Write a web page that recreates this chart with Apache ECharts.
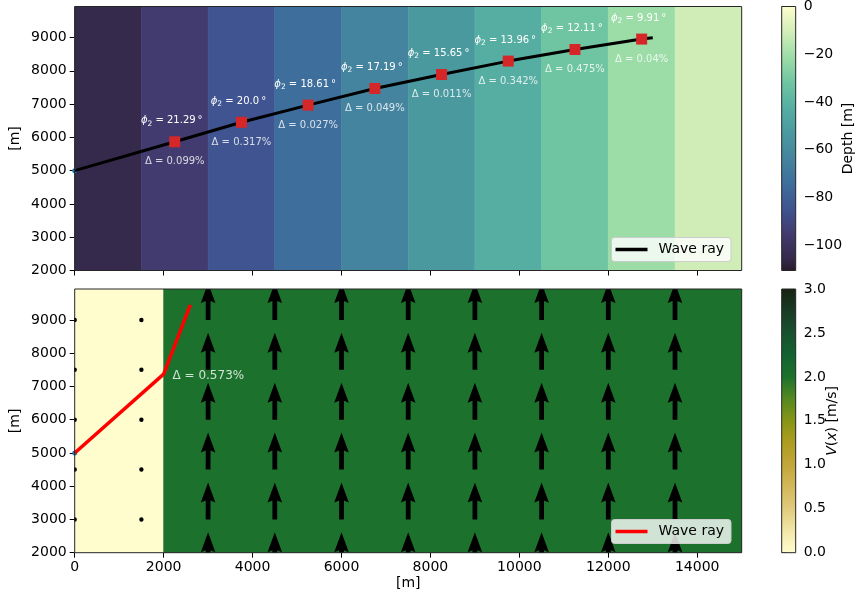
<!DOCTYPE html>
<html>
<head>
<meta charset="utf-8">
<title>Wave ray</title>
<script src="https://cdn.jsdelivr.net/npm/echarts@6/dist/echarts.min.js"></script>
<style>
  html, body { margin: 0; padding: 0; background: #fff; }
  #chart { width: 855px; height: 599px; }
</style>
</head>
<body>
<div id="chart"></div>
<script>
// ---------------- data ----------------
// top panel: depth bands (left edge, depth)
const bandX = [0, 1500, 3000, 4500, 6000, 7500, 9000, 10500, 12000, 13500];
const bandDepth = [-105.5, -95, -84.5, -74, -63.5, -53, -42.5, -32, -21.5, -11];
const bandWidth = 1500;

// top panel: wave ray
const rayX = [0, 2250, 3750, 5250, 6750, 8250, 9750, 11250, 12750, 13000];
const rayY = [5000, 5866, 6452, 6968, 7467, 7888, 8290, 8639, 8951, 8990];

// top panel: marked points
const pointX = [2250, 3750, 5250, 6750, 8250, 9750, 11250, 12750];
const pointY = [5866, 6452, 6968, 7467, 7888, 8290, 8639, 8951];
const phi = ["21.29", "20.0", "18.61", "17.19", "15.65", "13.96", "12.11", "9.91"];
const delta = ["0.099", "0.317", "0.027", "0.049", "0.011", "0.342", "0.475", "0.04"];

// bottom panel: current regions
const speedX0 = [0, 2000];
const speedX1 = [2000, 15000];
const speedV = [0, 2];

// bottom panel: quiver grid
const quiverX = [0, 1500, 3000, 4500, 6000, 7500, 9000, 10500, 12000, 13500];
const quiverY = [1500, 3000, 4500, 6000, 7500, 9000];
const quiverV = [0, 0, 2, 2, 2, 2, 2, 2, 2, 2];

// bottom panel: wave ray
const ray2X = [0, 2000, 2600];
const ray2Y = [5000, 7370, 9450];
const ray2Delta = "0.573";
const ray2Note = [2200, 7320];

// ticks
const xTicks = [0, 2000, 4000, 6000, 8000, 10000, 12000, 14000];
const yTicks = [2000, 3000, 4000, 5000, 6000, 7000, 8000, 9000];
const depthTicks = [-100, -80, -60, -40, -20, 0];
const speedTicks = [0, 0.5, 1, 1.5, 2, 2.5, 3];

// ---------------- colormaps ----------------
const deepStops = [
  [-110.5, "#281a2c"], [-105.5, "#352a4b"], [-95, "#423b6f"], [-84.5, "#3f5490"],
  [-74, "#3e6e9c"], [-63.5, "#45849e"], [-53, "#4a999f"], [-42.5, "#56aea3"],
  [-32, "#6fc5a1"], [-21.5, "#9bdca7"], [-11, "#d0edb8"], [0, "#fdfecc"],
];
const speedStops = [
  [0, "#fffdcd"], [0.25, "#f2e6a8"], [0.5, "#e0cb7c"], [0.75, "#d2b85a"],
  [1, "#c3a63a"], [1.25, "#ad9d20"], [1.5, "#879516"], [1.75, "#558820"],
  [2, "#1c722c"], [2.25, "#146232"], [2.5, "#18512f"], [2.75, "#1a3b25"], [3, "#172313"],
];

function cmap(stops, v) {
  if (v <= stops[0][0]) return stops[0][1];
  for (let i = 1; i < stops.length; i++) {
    if (v <= stops[i][0]) {
      const t = (v - stops[i - 1][0]) / (stops[i][0] - stops[i - 1][0]);
      return echarts.color.lerp(t, [stops[i - 1][1], stops[i][1]]);
    }
  }
  return stops[stops.length - 1][1];
}

function gradient(stops) {
  const lo = stops[0][0], hi = stops[stops.length - 1][0];
  return new echarts.graphic.LinearGradient(0, 1, 0, 0,
    stops.map((s) => ({ offset: (s[0] - lo) / (hi - lo), color: s[1] })));
}

// ---------------- helpers ----------------
const FONT = "DejaVu Sans";
const arrowScale = 556; // metres of arrow per unit of V

const plain = (v) => String(v);
const minus = (v) => (v < 0 ? "\u2212" + -v : String(v));

function valueAxis(gridIndex, min, max, ticks, extra) {
  return Object.assign({
    gridIndex: gridIndex,
    type: "value",
    min: min,
    max: max,
    nameMoveOverlap: false,
    axisLine: { show: false },
    splitLine: { show: false },
    axisTick: { show: true, length: 5, customValues: ticks, lineStyle: { color: "#000", width: 1 } },
    axisLabel: {
      show: true, customValues: ticks, margin: 8, formatter: plain,
      color: "#000", fontSize: 14, fontFamily: FONT,
    },
    nameTextStyle: { color: "#000", fontSize: 14, fontFamily: FONT },
  }, extra || {});
}

const gridStyle = {
  show: true,
  borderColor: "#262626",
  borderWidth: 1,
  backgroundColor: "transparent",
  z: 5,
  containLabel: false,
  outerBoundsMode: "none",
};

function bandItem(stops) {
  return function (params, api) {
    const cs = params.coordSys;
    const x0 = api.coord([api.value(0), 0])[0];
    const x1 = api.coord([api.value(1), 0])[0];
    const c = cmap(stops, api.value(2));
    return {
      type: "rect",
      shape: { x: x0, y: cs.y, width: x1 - x0, height: cs.height },
      style: { fill: c, stroke: c, lineWidth: 0.6 },
    };
  };
}

function colorbarItem(stops) {
  return function (params) {
    const cs = params.coordSys;
    return {
      type: "rect",
      shape: { x: cs.x, y: cs.y, width: cs.width, height: cs.height },
      style: { fill: gradient(stops) },
    };
  };
}

function arrowItem(params, api) {
  const x = api.value(0), y = api.value(1), v = api.value(2);
  const p = api.coord([x, y]);
  if (v === 0) {
    return { type: "circle", shape: { cx: p[0], cy: p[1], r: 2.2 }, style: { fill: "#000" } };
  }
  const ty = api.coord([x, y + v * arrowScale])[1];
  const w = 2.4, hw = 7.3, hl = 20, hal = 18;
  return {
    type: "polygon",
    shape: {
      points: [
        [p[0] - w, p[1]], [p[0] - w, ty + hal], [p[0] - hw, ty + hl], [p[0], ty],
        [p[0] + hw, ty + hl], [p[0] + w, ty + hal], [p[0] + w, p[1]],
      ],
    },
    style: { fill: "#000" },
  };
}

const quiverData = [];
quiverX.forEach((x, i) => quiverY.forEach((y) => quiverData.push([x, y, quiverV[i]])));

function legendStyle(name, top) {
  return {
    data: [name],
    left: 611.5,
    top: top,
    orient: "horizontal",
    icon: "rect",
    itemWidth: 32,
    itemHeight: 3.5,
    padding: [5, 7, 5, 4],
    backgroundColor: "rgba(255,255,255,0.8)",
    borderColor: "#cccccc",
    borderWidth: 1,
    borderRadius: 3,
    formatter: () => "{t|Wave ray}",
    textStyle: {
      rich: { t: { fontSize: 14, fontFamily: FONT, color: "#000", padding: [0, 0, 0, 6], lineHeight: 15 } },
    },
  };
}

// ---------------- chart ----------------
const options = {
  animation: false,
  textStyle: { fontFamily: FONT },
  grid: [
    Object.assign({ left: 74.7, top: 6.5, width: 667, height: 264 }, gridStyle),   // top panel
    Object.assign({ left: 74.7, top: 289, width: 667, height: 263.7 }, gridStyle),  // bottom panel
    Object.assign({ left: 781.7, top: 6.5, width: 14, height: 264 }, gridStyle),    // depth colorbar
    Object.assign({ left: 781.7, top: 289, width: 14, height: 263.7 }, gridStyle),  // speed colorbar
  ],
  legend: [legendStyle("rayTop", 237.5), legendStyle("rayBottom", 519.5)],
  xAxis: [
    valueAxis(0, 0, 15000, xTicks, { axisLabel: { show: false, customValues: xTicks } }),
    valueAxis(1, 0, 15000, xTicks, { name: "[m]", nameLocation: "middle", nameGap: 24 }),
    { gridIndex: 2, type: "value", min: 0, max: 1, show: false },
    { gridIndex: 3, type: "value", min: 0, max: 1, show: false },
  ],
  yAxis: [
    valueAxis(0, 2000, 9930, yTicks, { name: "[m]", nameLocation: "middle", nameGap: 52, nameRotate: 90 }),
    valueAxis(1, 2000, 9930, yTicks, { name: "[m]", nameLocation: "middle", nameGap: 52, nameRotate: 90 }),
    (() => {
      const a = valueAxis(2, -110.5, 0, depthTicks, {
        position: "right", name: "Depth [m]", nameLocation: "middle", nameGap: 46, nameRotate: 90,
      });
      a.axisLabel.formatter = minus;
      return a;
    })(),
    (() => {
      const a = valueAxis(3, 0, 3, speedTicks, {
        position: "right", name: "{i|V}{n|(}{i|x}{n|) [m/s]}", nameLocation: "middle", nameGap: 30, nameRotate: 90,
      });
      a.axisLabel.formatter = (v) => v.toFixed(1);
      a.nameTextStyle.rich = {
        i: { fontSize: 14, fontFamily: FONT, fontStyle: "italic", color: "#000" },
        n: { fontSize: 14, fontFamily: FONT, color: "#000" },
      };
      return a;
    })(),
  ],
  series: [
    // depth bands
    {
      type: "custom",
      xAxisIndex: 0,
      yAxisIndex: 0,
      clip: true,
      z: 1,
      data: bandX.map((x, i) => [x, x + bandWidth, bandDepth[i]]),
      renderItem: bandItem(deepStops),
    },
    {
      type: "scatter",
      xAxisIndex: 0,
      yAxisIndex: 0,
      symbolSize: 5,
      itemStyle: { color: "#1f77b4", opacity: 1 },
      z: 2,
      data: [[rayX[0], rayY[0]]],
    },
    {
      name: "rayTop",
      type: "line",
      xAxisIndex: 0,
      yAxisIndex: 0,
      symbol: "none",
      color: "#000",
      lineStyle: { color: "#000", width: 3 },
      z: 3,
      data: rayX.map((x, i) => [x, rayY[i]]),
    },
    // red squares + angle labels
    {
      type: "scatter",
      xAxisIndex: 0,
      yAxisIndex: 0,
      symbol: "rect",
      symbolSize: 11,
      itemStyle: { color: "#d62728", opacity: 1 },
      z: 4,
      data: pointX.map((x, i) => [x, pointY[i], phi[i]]),
      label: {
        show: true,
        position: "inside",
        offset: [-3, -21],
        formatter: (p) => "{i|ϕ}{s|2}{n| = " + p.value[2] + "\u2009°}",
        rich: {
          i: { fontSize: 10, fontFamily: FONT, fontStyle: "italic", color: "#fff", lineHeight: 14 },
          s: { fontSize: 7.5, fontFamily: FONT, color: "#fff", lineHeight: 8, verticalAlign: "bottom" },
          n: { fontSize: 10, fontFamily: FONT, color: "#fff", lineHeight: 14 },
        },
      },
    },
    // delta labels under the squares
    {
      type: "scatter",
      xAxisIndex: 0,
      yAxisIndex: 0,
      symbolSize: 0,
      z: 4,
      data: pointX.map((x, i) => [x, pointY[i], delta[i]]),
      label: {
        show: true,
        position: "inside",
        offset: [0, 20],
        formatter: (p) => "Δ = " + p.value[2] + "%",
        fontSize: 10,
        fontFamily: FONT,
        color: "#fff",
      },
    },
    // current regions
    {
      type: "custom",
      xAxisIndex: 1,
      yAxisIndex: 1,
      clip: true,
      z: 1,
      data: speedX0.map((x, i) => [x, speedX1[i], speedV[i]]),
      renderItem: bandItem(speedStops),
    },
    // quiver arrows
    {
      type: "custom",
      xAxisIndex: 1,
      yAxisIndex: 1,
      clip: true,
      z: 2,
      data: quiverData,
      renderItem: arrowItem,
    },
    {
      type: "scatter",
      xAxisIndex: 1,
      yAxisIndex: 1,
      symbolSize: 5,
      itemStyle: { color: "#1f77b4", opacity: 1 },
      z: 2,
      data: [[ray2X[0], ray2Y[0]]],
    },
    {
      name: "rayBottom",
      type: "line",
      xAxisIndex: 1,
      yAxisIndex: 1,
      symbol: "none",
      color: "#ff0000",
      lineStyle: { color: "#ff0000", width: 3.5 },
      z: 3,
      data: ray2X.map((x, i) => [x, ray2Y[i]]),
    },
    {
      type: "scatter",
      xAxisIndex: 1,
      yAxisIndex: 1,
      symbolSize: 0,
      z: 4,
      data: [[ray2Note[0], ray2Note[1], ray2Delta]],
      label: {
        show: true,
        position: "inside",
        align: "left",
        formatter: (p) => "Δ = " + p.value[2] + "%",
        fontSize: 12,
        fontFamily: FONT,
        color: "#fff",
      },
    },
    // colorbars
    {
      type: "custom",
      xAxisIndex: 2,
      yAxisIndex: 2,
      z: 1,
      data: [[0, 0]],
      renderItem: colorbarItem(deepStops),
    },
    {
      type: "custom",
      xAxisIndex: 3,
      yAxisIndex: 3,
      z: 1,
      data: [[0, 0]],
      renderItem: colorbarItem(speedStops),
    },
  ],
};

const chart = echarts.init(document.getElementById("chart"));
chart.setOption(options);

window.addEventListener("resize", () => {
  chart.resize();
});
</script>
</body>
</html>
